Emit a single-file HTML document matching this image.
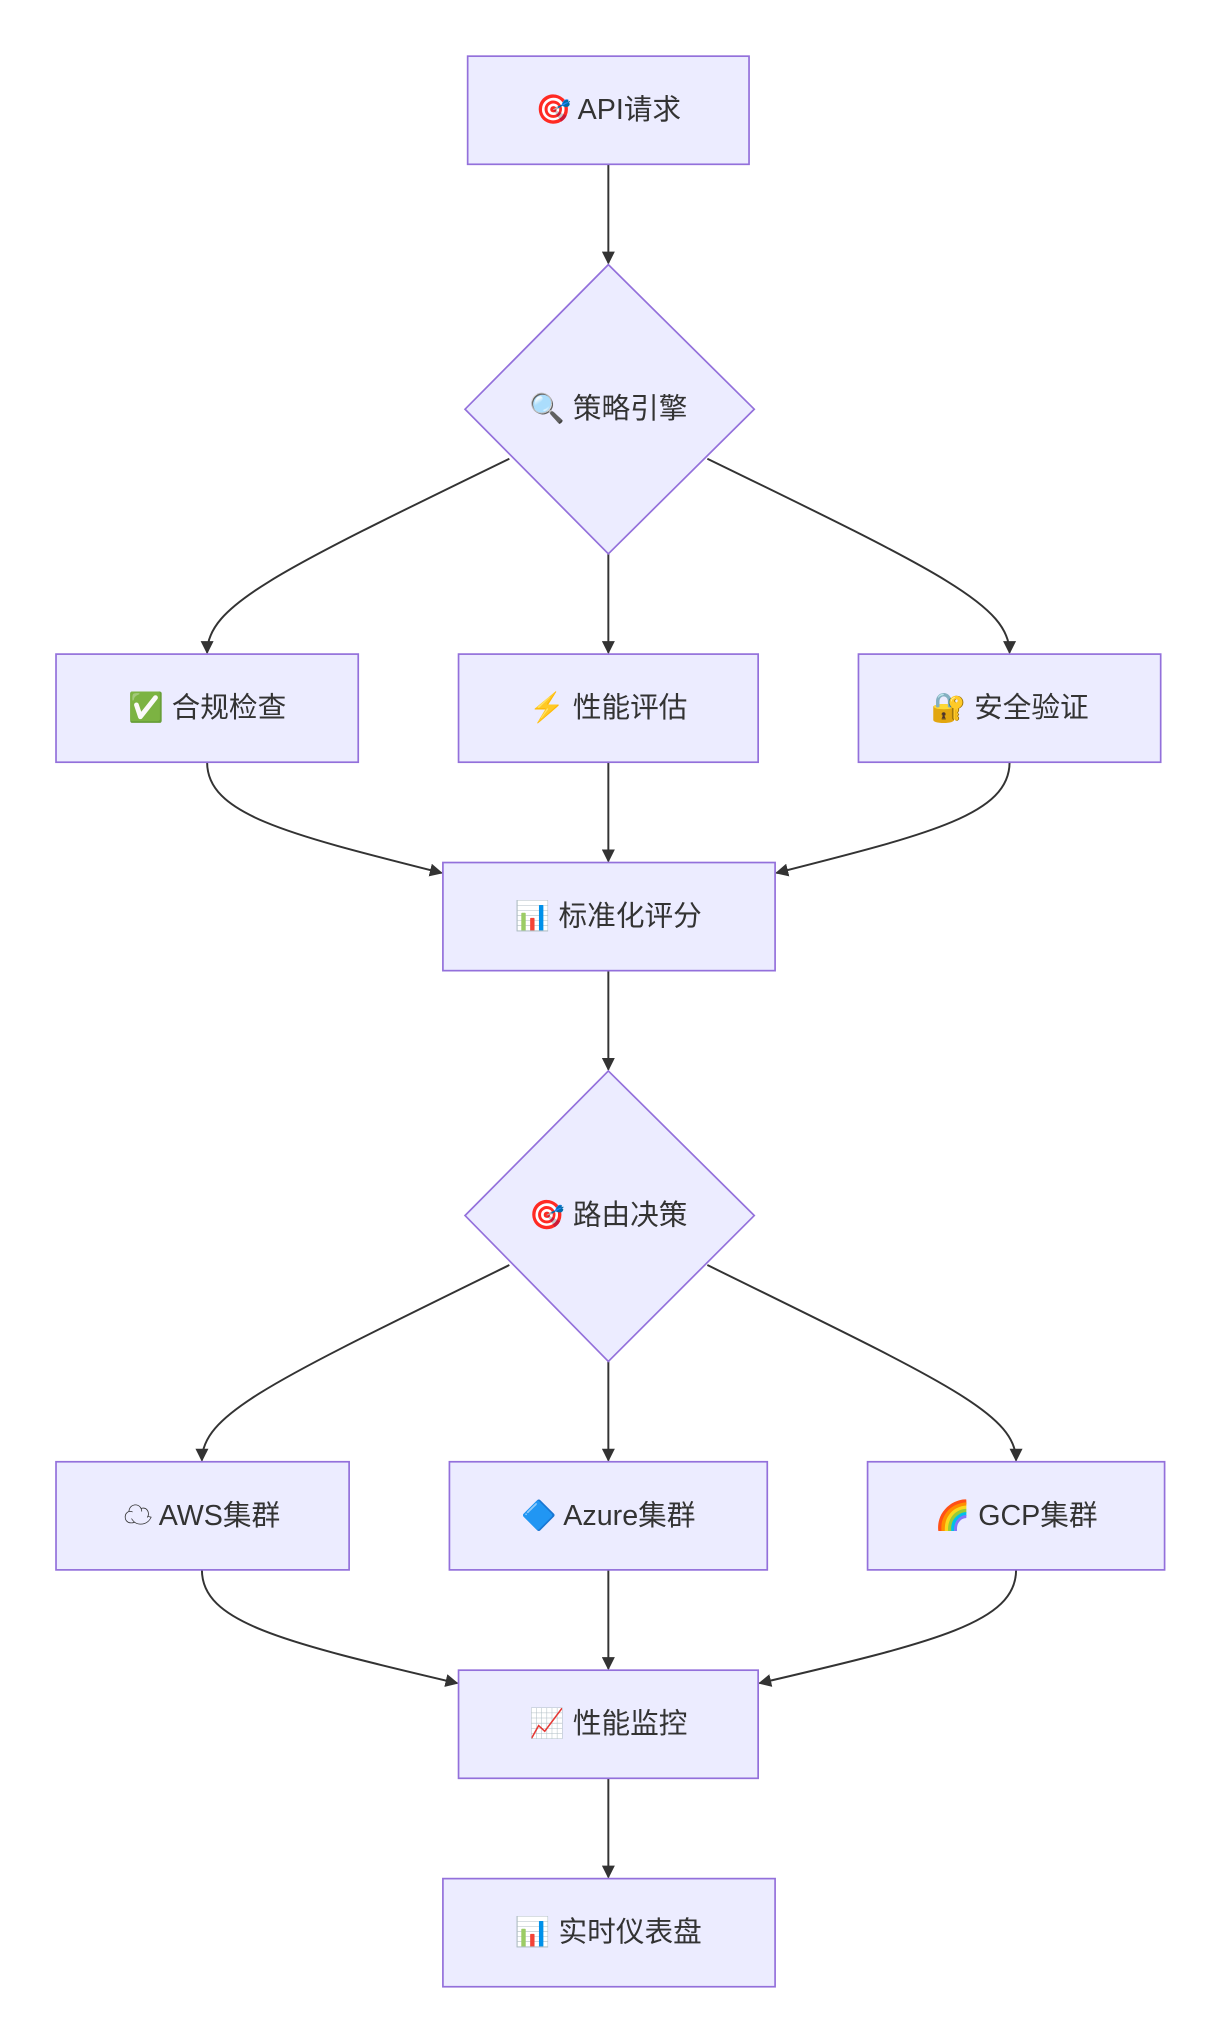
<!DOCTYPE html>
<html><head><meta charset="utf-8"><style>
html,body{margin:0;padding:0;background:#fff;}
svg{display:block}
text{font-family:"Liberation Sans","Noto Sans CJK SC",sans-serif;font-size:22px;fill:#333;text-anchor:middle;dominant-baseline:central}
.n{fill:#ECECFF;stroke:#9370DB;stroke-width:1.3}
.e{fill:none;stroke:#333;stroke-width:1.5}
</style></head><body>
<svg width="1218" height="2039" viewBox="0 0 935 1565" xmlns="http://www.w3.org/2000/svg">
<defs><marker id="a" viewBox="0 0 10 10" refX="9" refY="5" markerWidth="10" markerHeight="10" orient="auto-start-reverse" markerUnits="userSpaceOnUse"><path d="M0,0 L10,5 L0,10 z" fill="#333"/></marker></defs>
<path class="e" marker-end="url(#a)" d="M467,126 L467,202"/>
<path class="e" marker-end="url(#a)" d="M391,352 C210,440 159,465 159,501"/>
<path class="e" marker-end="url(#a)" d="M467,425 L467,501"/>
<path class="e" marker-end="url(#a)" d="M543,352 C724,440 775,465 775,501"/>
<path class="e" marker-end="url(#a)" d="M159,585 C159,625 220,640 339,670"/>
<path class="e" marker-end="url(#a)" d="M467,585 L467,661"/>
<path class="e" marker-end="url(#a)" d="M775,585 C775,625 714,640 596,670"/>
<path class="e" marker-end="url(#a)" d="M467,745 L467,821"/>
<path class="e" marker-end="url(#a)" d="M391,971 C210,1060 155,1085 155,1121"/>
<path class="e" marker-end="url(#a)" d="M467,1045 L467,1121"/>
<path class="e" marker-end="url(#a)" d="M543,971 C724,1060 780,1085 780,1121"/>
<path class="e" marker-end="url(#a)" d="M155,1205 C155,1245 215,1260 351,1292"/>
<path class="e" marker-end="url(#a)" d="M467,1205 L467,1281"/>
<path class="e" marker-end="url(#a)" d="M780,1205 C780,1245 720,1260 583,1292"/>
<path class="e" marker-end="url(#a)" d="M467,1365 L467,1441"/>
<rect class="n" x="359" y="43" width="216" height="83"/><text x="467" y="84.5">🎯 API请求</text>
<polygon class="n" points="467,203 579,314 467,425 357,314"/><text x="467" y="314">🔍 策略引擎</text>
<rect class="n" x="43" y="502" width="232" height="83"/><text x="159" y="543.5">✅ 合规检查</text>
<rect class="n" x="352" y="502" width="230" height="83"/><text x="467" y="543.5">⚡ 性能评估</text>
<rect class="n" x="659" y="502" width="232" height="83"/><text x="775" y="543.5">🔐 安全验证</text>
<rect class="n" x="340" y="662" width="255" height="83"/><text x="467" y="703.5">📊 标准化评分</text>
<polygon class="n" points="467,822 579,933 467,1045 357,933"/><text x="467" y="933">🎯 路由决策</text>
<rect class="n" x="43" y="1122" width="225" height="83"/><text x="155" y="1163.5">☁ AWS集群</text>
<rect class="n" x="345" y="1122" width="244" height="83"/><text x="467" y="1163.5">🔷 Azure集群</text>
<rect class="n" x="666" y="1122" width="228" height="83"/><text x="780" y="1163.5">🌈 GCP集群</text>
<rect class="n" x="352" y="1282" width="230" height="83"/><text x="467" y="1323.5">📈 性能监控</text>
<rect class="n" x="340" y="1442" width="255" height="83"/><text x="467" y="1483.5">📊 实时仪表盘</text>
</svg>
</body></html>
